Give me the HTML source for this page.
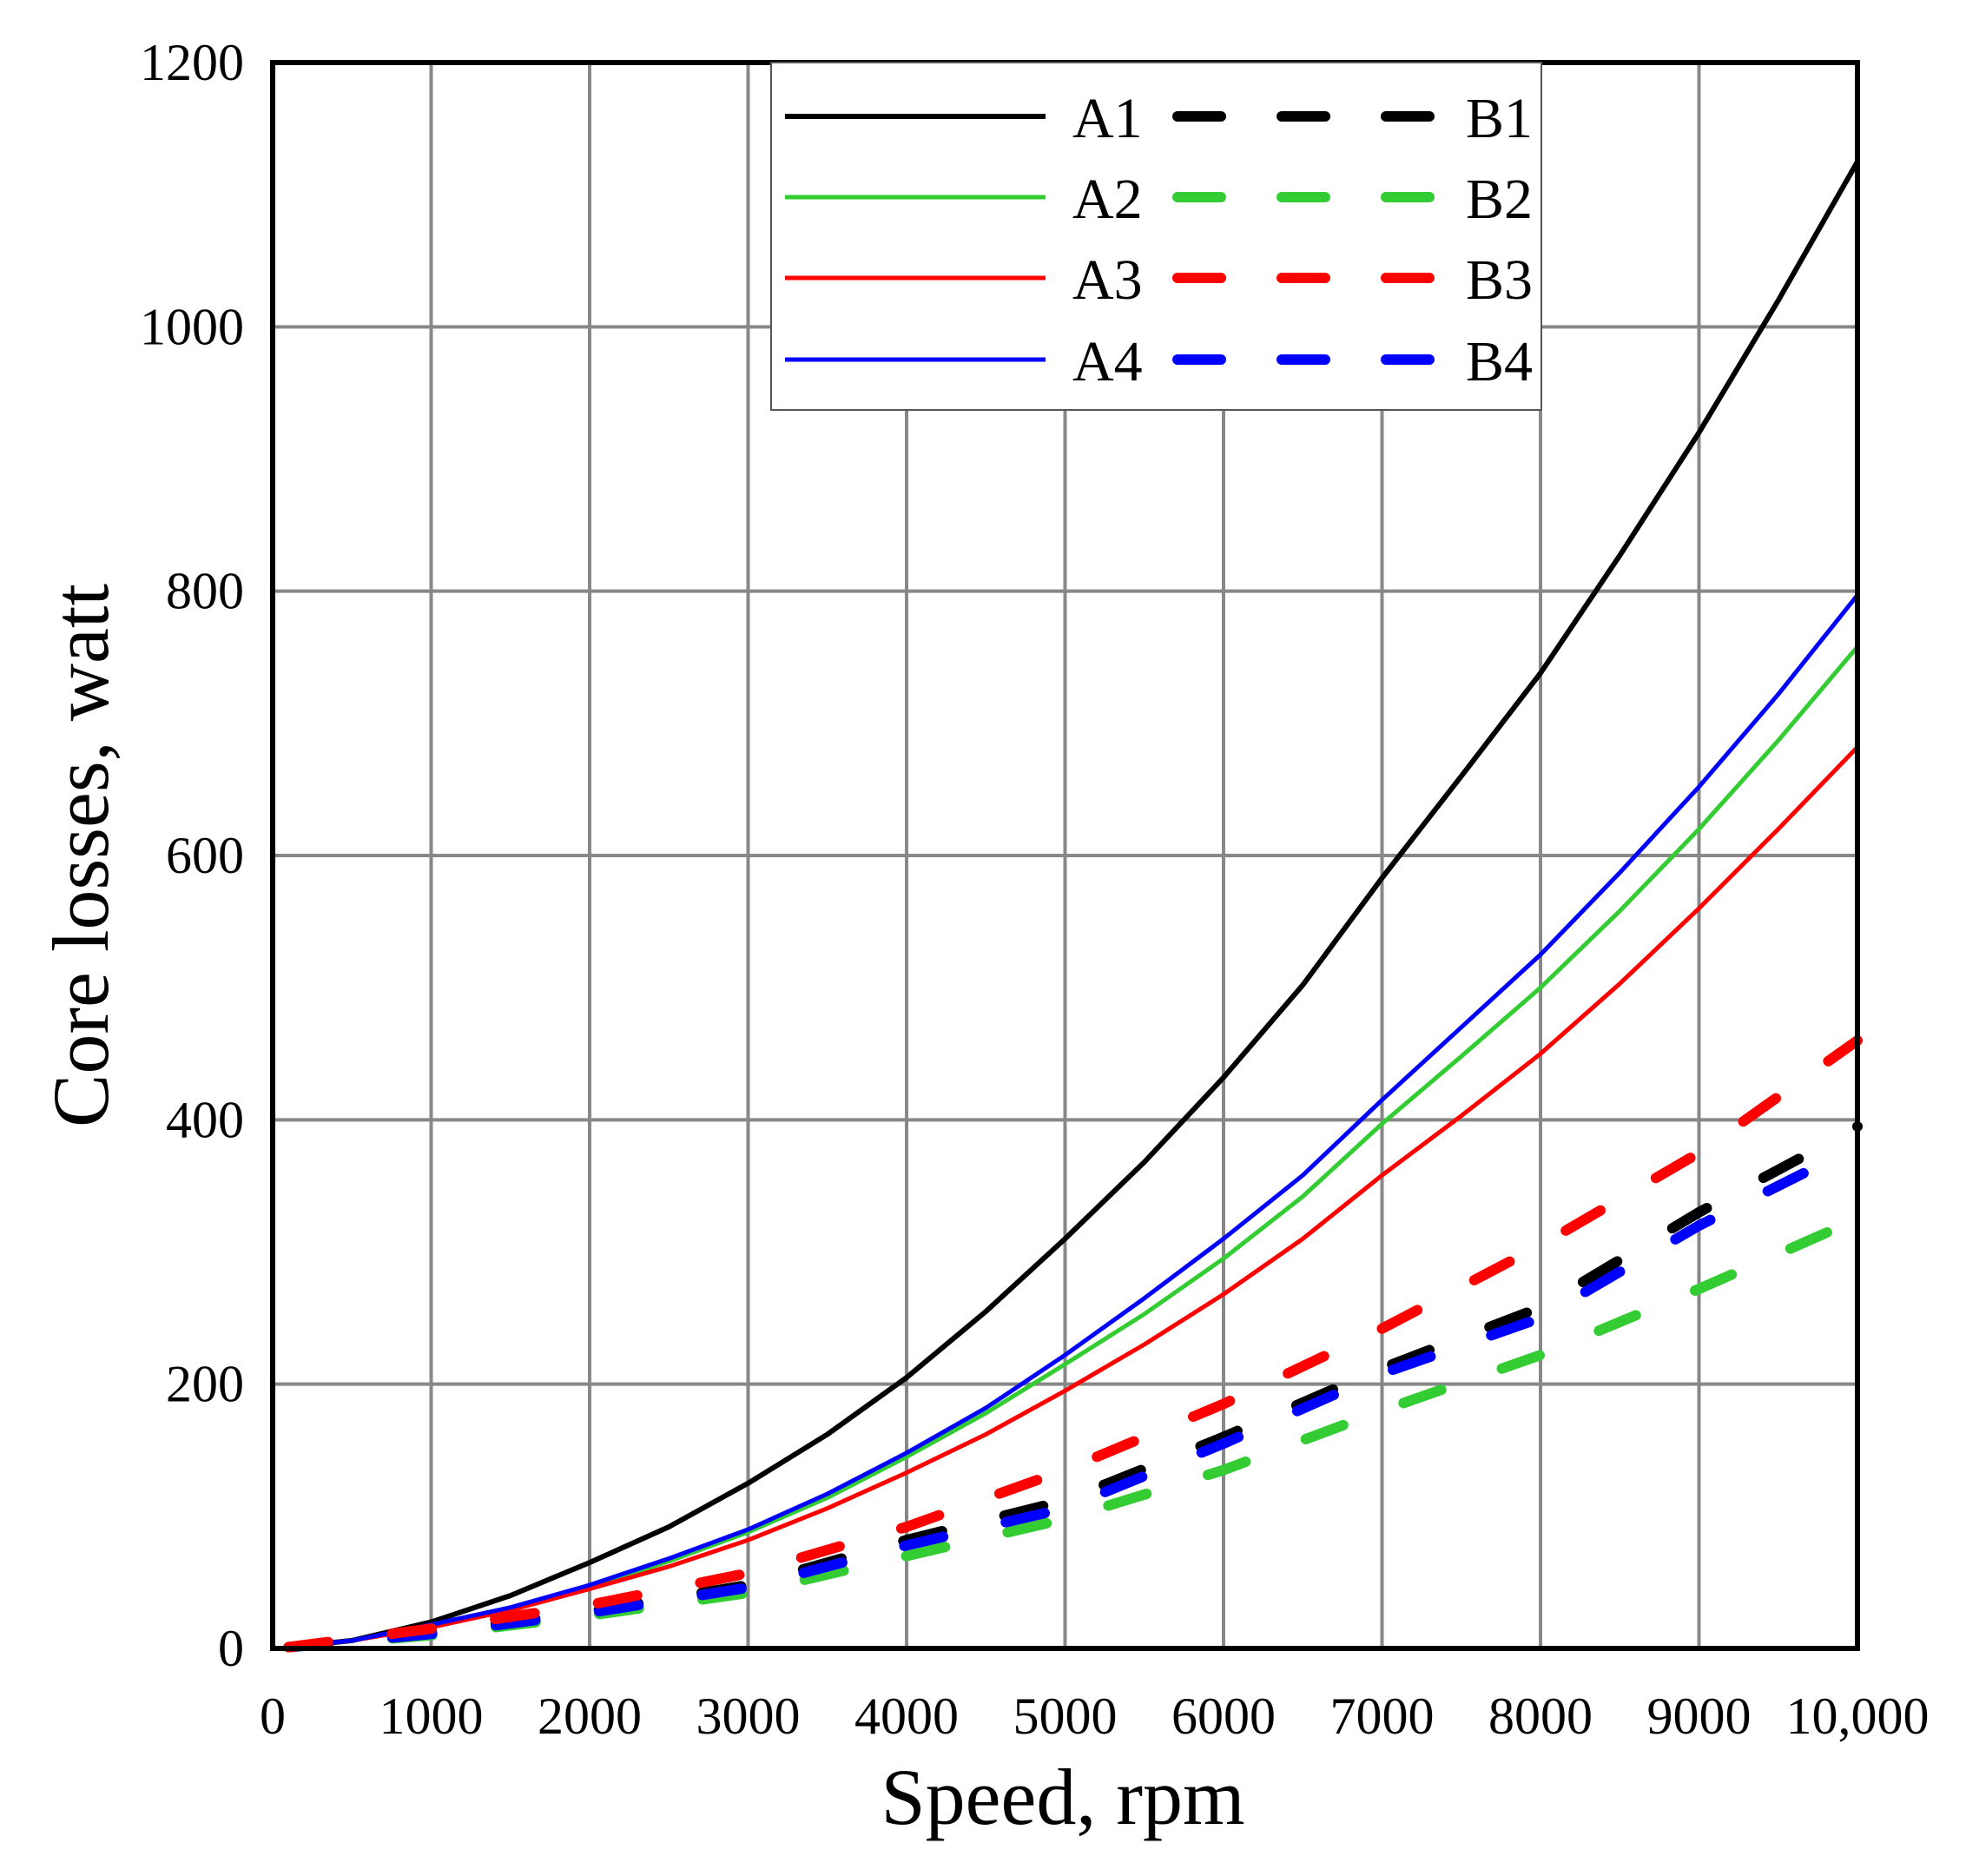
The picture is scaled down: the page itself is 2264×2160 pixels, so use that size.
<!DOCTYPE html>
<html><head><meta charset="utf-8"><style>
html,body{margin:0;padding:0;background:#fff;}
svg{display:block;font-family:"Liberation Serif",serif;}
</style></head><body>
<svg id="s" width="2264" height="2160" viewBox="0 0 2264 2160" xmlns="http://www.w3.org/2000/svg">
<rect width="2264" height="2160" fill="#fff"/>
<g id="grid" stroke="#888" stroke-width="4"></g>
<g id="series" fill="none" stroke-linejoin="round"></g>
<rect x="314" y="72" width="1825" height="1826" fill="none" stroke="#000" stroke-width="6"/>
<g id="legend">
<rect x="888" y="72" width="887" height="400" fill="#fff" stroke="#555" stroke-width="2"/>
</g>
<g id="labels" font-size="60" fill="#000"></g>
<text x="1224" y="2100" font-size="92" text-anchor="middle">Speed, rpm</text>
<text transform="translate(124,985) rotate(-90)" font-size="92" text-anchor="middle">Core losses, watt</text>
</svg>
<script>
const L=314,R=2139,T=72,B=1898;
const X=v=>L+(R-L)*v/10000, Y=v=>B-(B-T)*v/1200;
const ns="http://www.w3.org/2000/svg";
function el(p,tag,a,txt){const e=document.createElementNS(ns,tag);for(const k in a)e.setAttribute(k,a[k]);if(txt!=null)e.textContent=txt;p.appendChild(e);return e;}
const g=document.getElementById('grid'),lb=document.getElementById('labels');
for(let i=1;i<10;i++)el(g,'line',{x1:X(i*1000),x2:X(i*1000),y1:T,y2:B});
for(let i=1;i<6;i++)el(g,'line',{x1:L,x2:R,y1:Y(i*200),y2:Y(i*200)});
for(let i=0;i<=10;i++){const t=i==10?'10,000':String(i*1000);el(lb,'text',{x:X(i*1000),y:1996,'text-anchor':'middle'},t);}
for(let i=0;i<=6;i++)el(lb,'text',{x:281,y:Y(i*200)+20,'text-anchor':'end'},String(i*200));
const sr=document.getElementById('series');
function path(pts){return pts.map((p,i)=>(i?'L':'M')+X(p[0]).toFixed(1)+' '+Y(p[1]).toFixed(1)).join(' ');}
function mk(vals,start){const out=[[100,1]];vals.forEach((v,i)=>out.push([500*(i+1),v]));return out;}
const A={
'#000':mk([6,20,40,65,92,125,162,205,255,310,368,432,502,583,660,738,827,920,1020,1125]),
'#3c3':mk([6,17,30,46,66,88,114,145,178,215,253,295,342,397,448,500,558,620,687,758]),
'#f00':mk([6,16,29,45,62,82,106,133,162,195,230,268,310,358,403,450,503,560,620,682]),
'#00f':mk([6,18,31,48,68,90,117,148,182,222,265,310,358,415,470,525,587,652,722,797])};
const Bs={
'#3c3':[[100,1],[1000,10],[2000,25],[3000,42],[4000,70],[5000,98],[6000,135],[7000,180],[8000,222],[9000,272],[10000,325]],
'#000':[[100,1],[1000,12],[2000,28],[3000,48],[4000,82],[5000,112],[6000,160],[7000,212],[8000,258],[9000,330],[9700,375]],
'#00f':[[100,1],[1000,11],[2000,27],[3000,46],[4000,78],[5000,106],[6000,155],[7000,208],[8000,250],[9000,320],[9700,362]],
'#f00':[[100,1],[1000,15],[2000,33],[3000,57],[4000,92],[5000,135],[6000,185],[7000,242],[8000,305],[9000,375],[10000,460]]};
for(const c in A)el(sr,'path',{d:path(A[c]),stroke:c,'stroke-width':c=='#000'?6:5});
for(const c in Bs)el(sr,'path',{d:path(Bs[c]),stroke:c,'stroke-width':12,'stroke-linecap':'round','stroke-dasharray':'46 74'});
el(sr,'circle',{cx:X(10000),cy:Y(395),r:6,fill:'#000',stroke:'none'});
const lg=document.getElementById('legend');const cols=['#000','#3c3','#f00','#00f'];const ys=[134,227,320,414];
cols.forEach((c,i)=>{const y=ys[i];
 el(lg,'line',{x1:904,x2:1204,y1:y,y2:y,stroke:c,'stroke-width':c=='#000'?6:5});
 el(lg,'text',{x:1235,y:y+24,'font-size':66},'A'+(i+1));
 [1356,1476,1596].forEach(x=>el(lg,'line',{x1:x,x2:x+50,y1:y,y2:y,stroke:c,'stroke-width':12,'stroke-linecap':'round'}));
 el(lg,'text',{x:1688,y:y+24,'font-size':66},'B'+(i+1));});
</script>
</body></html>
